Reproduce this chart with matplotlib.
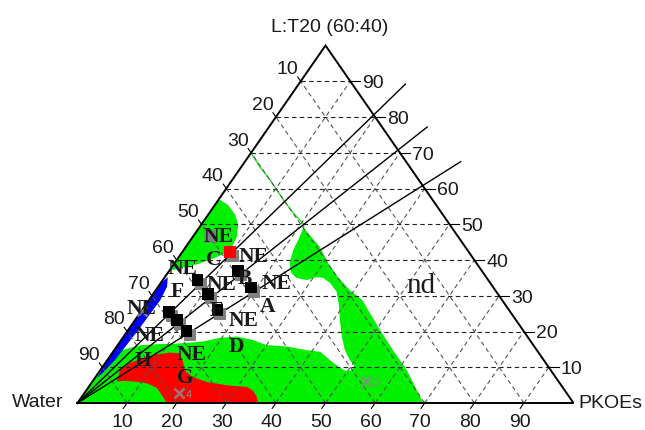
import numpy as np
import matplotlib.pyplot as plt
from matplotlib import transforms

plt.rcParams['font.family'] = ['Liberation Sans', 'DejaVu Sans']

# every point is (PKOEs %, L:T20 %); Water = 100 - PKOEs - L:T20
top_label = 'L:T20 (60:40)'
left_label = 'Water'
right_label = 'PKOEs'
tick_values = [10, 20, 30, 40, 50, 60, 70, 80, 90]

# dilution lines run from the water corner to these end points
line_end_p = [21.5, 31.9, 43.5]
line_end_l = [89.2, 77.2, 67.5]

# samples along the dilution lines (first one is the red sample)
sample_p = [9.6, 7.0, 5.7, 13.9, 11.0, 8.4, 18.8, 15.2, 11.9]
sample_l = [42.3, 34.4, 25.5, 37.0, 30.5, 23.2, 32.3, 26.0, 20.2]
sample_color = ['#ff0000'] + ['black'] * 8

# phase regions
green_main_p = [0, 69.7, 61.8, 56.2, 50.8, 43.0, 39.1, 34.9, 30.9, 27.0, 22.3, 21.0,
                21.6, 22.1, 23.1, 24.7, 26.6, 29.0, 30.6, 32.0, 34.1, 36.7, 39.0, 41.3,
                44.0, 46.5, 48.9, 50.6, 50.6, 49.5, 47.2, 44.9, 41.8, 38.8, 34.3, 30.0,
                26.6, 22.8, 19.6, 16.7, 11.5, 8.7, 4.8, 1.5, 0.1, 0]
green_main_l = [0, 0, 9.2, 14.8, 20.4, 28.8, 31.6, 35.2, 39.2, 43.7, 47.9, 49.2,
                46.2, 42.8, 39.4, 36.6, 35.0, 34.4, 35.2, 35.0, 33.6, 31.1, 27.4, 23.2,
                18.6, 14.8, 12.0, 10.4, 9.1, 9.0, 10.4, 12.0, 14.3, 14.8, 15.8, 16.2,
                17.6, 18.6, 18.2, 17.2, 16.6, 16.5, 16.2, 14.8, 12.0, 11]

green_lobe_p = [0, 2.65, 5.5, 7.5, 8.9, 9.3, 8.7, 7.0, 4.9, 2.6, 0]
green_lobe_l = [57, 55.4, 52.6, 49.8, 46.4, 43.6, 41.7, 40.3, 38.9, 38.0, 37]

green_curve_p = [0, 3.7, 7.6, 10.4, 13.1, 17.0, 20.5, 21.0]
green_curve_l = [70, 66.1, 62.4, 59.6, 56.8, 53.1, 50.1, 49.2]

red_p = [4.9, 4.0, 5.0, 6.9, 9.2, 11.6, 13.7, 15.5, 17.2, 19.5, 23.1, 27.9, 31.9,
         33.7, 35.3, 36.4, 18.0, 15.9, 13.9, 11.3, 8.6, 6.1]
red_l = [6.0, 9.2, 11.2, 12.6, 13.6, 14.1, 13.9, 11.5, 9.0, 7.3, 5.9, 4.9, 4.5,
         3.4, 1.7, 0, 0, 2.2, 4.2, 5.5, 6.0, 6.2]

blue_p = [0.5, 1.0, 1.55, 2.05, 2.3, 1.8, 0.6, 0.2, 0.1, 0.0, 0.1]
blue_l = [7.0, 9.0, 12.0, 20.4, 28.8, 32.5, 35.2, 34.0, 28.8, 20.4, 10.0]

# phase labels
label_text = ['NE', 'C', 'NE', 'NE', 'F', 'NE', 'B', 'NE', 'A', 'E', 'NE', 'D',
              'NE', 'NE', 'NE', 'H', 'G']
label_p = [5.0, 7.1, 14.7, 2.2, 4.3, 12.2, 16.1, 23.1, 24.7, 14.9, 21.8, 24.0,
           -0.5, 5.0, 16.0, 7.2, 18.0]
label_l = [47.0, 40.6, 41.5, 38.0, 31.6, 33.6, 35.3, 33.9, 27.4, 26.3, 23.4, 16.2,
           26.7, 19.2, 14.1, 12.2, 7.4]
nd_p, nd_l = 52.5, 33.6

# crosses with their numbers
cross_p = [19.1, 55.1, 0.15]
cross_l = [2.8, 6.15, 25.6]
cross_num = ['4', '3', '']

# a lone grey shadow square
lone_p, lone_l = 3.4, 46.7


def tern(p, l):
    p = np.asarray(p, dtype=float)
    l = np.asarray(l, dtype=float)
    return p + l / 2, l


fig = plt.figure(figsize=(6.45, 4.3), dpi=100)
ax = fig.add_axes([0, 0, 1, 1])
ax.set_xlim(-15.625, 114.415)
ax.set_ylim(-7.552, 112.73)
ax.axis('off')

lime = '#00f000'
ax.fill(*tern(green_main_p, green_main_l), color=lime, lw=0, zorder=1)
ax.fill(*tern(green_lobe_p, green_lobe_l), color=lime, lw=0, zorder=1)
ax.fill(*tern(red_p, red_l), color='#ff0000', lw=0, zorder=2)
ax.fill(*tern(blue_p, blue_l), color='#0000ff', lw=0, zorder=2)
ax.plot(*tern(green_curve_p, green_curve_l), color=lime, lw=0.9, zorder=2)

# grid
for k in tick_values:
    ax.plot(*tern([0, 100 - k], [k, k]), color='#222222', lw=0.8,
            ls=(0, (4, 3)), zorder=3)
    ax.plot(*tern([k, k], [0, 100 - k]), color='#555555', lw=0.8,
            ls=(0, (4, 3)), zorder=3)
    ax.plot(*tern([k, 0], [0, k]), color='#555555', lw=0.8,
            ls=(0, (4, 3)), zorder=3)

# frame
ax.plot(*tern([0, 100, 0, 0], [0, 0, 100, 0]), color='black', lw=1.4,
        solid_joinstyle='miter', zorder=5)

txt = '#1a1a1a'
for k in tick_values:
    # left edge: water
    ax.plot(*tern([0, -1.2], [k, k + 1.2]), color='black', lw=0.8, zorder=5)
    ax.annotate(str(100 - k), tern(0, k), xytext=(-9.7, 10.1 - 5),
                textcoords='offset points', ha='center', va='baseline',
                fontsize=14, color=txt)
    # bottom edge: PKOEs
    ax.plot(*tern([k, k], [0, -1.5]), color='black', lw=0.8, zorder=5)
    ax.annotate(str(k), tern(k, 0), xytext=(-3.2, -12.6 - 5),
                textcoords='offset points', ha='center', va='baseline',
                fontsize=14, color=txt)
    # right edge: L:T20
    ax.plot(*tern([100 - k, 102 - k], [k, k]), color='black', lw=0.8, zorder=5)
    ax.annotate(str(k), tern(100 - k, k), xytext=(8.6, -5),
                textcoords='offset points', ha='left', va='baseline',
                fontsize=14, color=txt)

ax.annotate(top_label, tern(0, 100), xytext=(3.2, 14.4 - 5), textcoords='offset points',
            ha='center', va='baseline', fontsize=14, color=txt)
ax.annotate(left_label, tern(0, 0), xytext=(-10.4, 2.2 - 5), textcoords='offset points',
            ha='right', va='baseline', fontsize=14, color=txt)
ax.annotate(right_label, tern(100, 0), xytext=(3.2, 1.1 - 5), textcoords='offset points',
            ha='left', va='baseline', fontsize=14, color=txt)

# dilution lines
for pe, le in zip(line_end_p, line_end_l):
    ax.plot(*tern([0, pe], [0, le]), color='black', lw=1.0, zorder=6)

# samples with grey drop shadows
shadow = transforms.offset_copy(ax.transData, fig=fig, x=3, y=-4, units='dots')
sx, sy = tern(sample_p, sample_l)
ax.scatter(sx, sy, s=8.4 ** 2, marker='s', c='#808080', linewidths=0,
           transform=shadow, zorder=7)
ax.scatter(sx, sy, s=8.4 ** 2, marker='s', c=sample_color, linewidths=0, zorder=8)
ax.plot(*tern(lone_p, lone_l), 's', ms=8.0, mec='none', color='#808080', zorder=7)

for cp, cl, num in zip(cross_p, cross_l, cross_num):
    x, y = tern(cp, cl)
    ax.plot(x, y, 'x', ms=6.5, mew=1.8, color='#8a8a8a', alpha=0.85, zorder=8)
    if num:
        ax.annotate(num, (x, y), xytext=(7, -3.5), textcoords='offset points',
                    ha='center', va='baseline', fontsize=8, color='#8a8a8a', zorder=8)

for t, p, l in zip(label_text, label_p, label_l):
    ax.annotate(t, tern(p, l), xytext=(0, -5), textcoords='offset points',
                ha='center', va='baseline', fontsize=15.5, fontweight='bold',
                family='Liberation Serif', color=txt, zorder=9)
ax.annotate('nd', tern(nd_p, nd_l), xytext=(0, -7), textcoords='offset points',
            ha='center', va='baseline', fontsize=21, family='Liberation Serif',
            color=txt, zorder=9)

fig.savefig('out.png', dpi=100)
